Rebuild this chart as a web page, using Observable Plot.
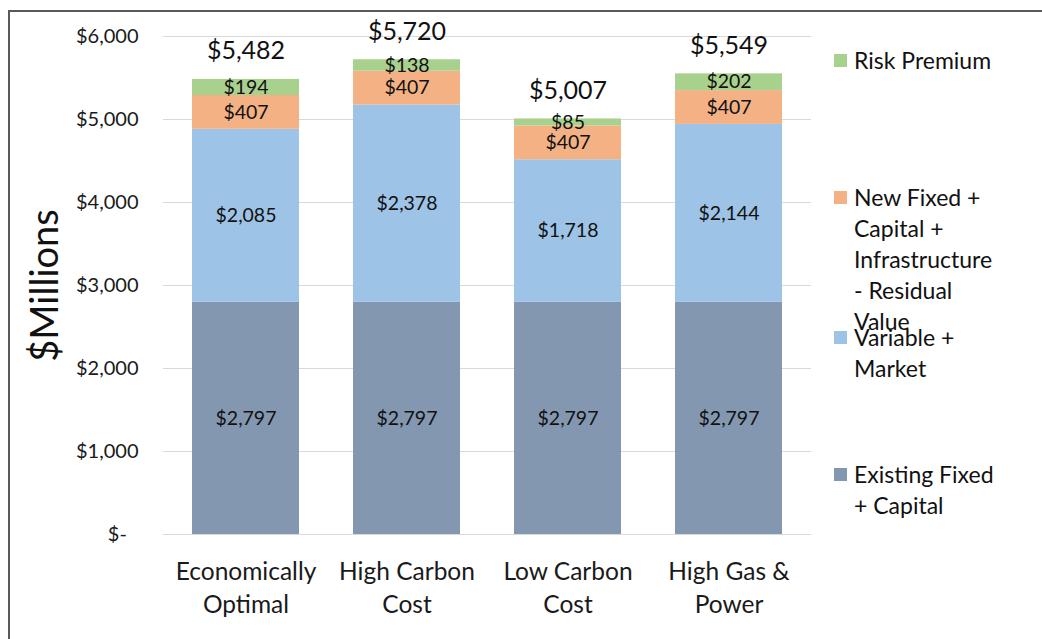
<!DOCTYPE html>
<html>
<head>
<meta charset="utf-8">
<script src="https://cdn.jsdelivr.net/npm/d3@7"></script>
<script src="https://cdn.jsdelivr.net/npm/@observablehq/plot@0.6"></script>
<style>
  html, body { margin: 0; padding: 0; background: #fff; }
  #wrap { position: relative; width: 1042px; height: 639px; overflow: hidden; font-family: Lato, "Open Sans", sans-serif; }
  #border { position: absolute; left: 8px; top: 10px; right: -10px; bottom: -10px; border-top: 2px solid #595959; border-left: 2px solid #595959; }
  #chart { position: absolute; left: 0; top: 0; }
  .lg { position: absolute; left: 834px; }
  .lg .sw { position: absolute; left: 0; width: 13px; height: 13px; }
  .lg .tx { position: absolute; left: 20px; white-space: pre; font-size: 23px; line-height: 31px; color: #111; }
</style>
</head>
<body>
<div id="wrap">
  <div id="border"></div>
  <div id="chart"></div>
  <div id="legend"></div>
</div>
<script>
const categories = ["Economically\nOptimal", "High Carbon\nCost", "Low Carbon\nCost", "High Gas &\nPower"];
const series = ["Existing Fixed\n+ Capital", "Variable +\nMarket", "New Fixed +\nCapital +\nInfrastructure\n- Residual\nValue", "Risk Premium"];
const existingFixed = [2797, 2797, 2797, 2797];
const variableMarket = [2085, 2378, 1718, 2144];
const newFixed = [407, 407, 407, 407];
const riskPremium = [194, 138, 85, 202];
const totals = [5482, 5720, 5007, 5549];
const colors = ["#8497B0", "#9DC3E6", "#F4B183", "#A9D18E"];
const yTicks = [0, 1000, 2000, 3000, 4000, 5000, 6000];

const seriesValues = [existingFixed, variableMarket, newFixed, riskPremium];
const rows = [];
categories.forEach((c, i) => {
  series.forEach((s, j) => rows.push({cat: c, series: s, value: seriesValues[j][i]}));
});
const totalRows = categories.map((c, i) => ({cat: c, total: totals[i]}));
const money = v => "$" + d3.format(",")(v);

const chart = Plot.plot({
  width: 1042,
  height: 639,
  marginLeft: 163,
  marginRight: 231,
  marginTop: 36,
  marginBottom: 105,
  style: {fontFamily: "Lato, 'Open Sans', sans-serif", background: "transparent", color: "#1a1a1a"},
  x: {domain: categories, paddingInner: 0.333, paddingOuter: 0.1667, label: null},
  y: {domain: [0, 6000], label: null},
  color: {domain: series, range: colors},
  marks: [
    Plot.gridY(yTicks, {stroke: "#d9d9d9", strokeOpacity: 1}),
    Plot.barY(rows, {x: "cat", y: "value", z: "series", fill: "series", order: series}),
    Plot.text(rows, Plot.stackY({x: "cat", y: "value", z: "series", order: series, text: d => money(d.value), fontSize: 19.5, fill: "#111"})),
    Plot.text(totalRows, {x: "cat", y: "total", text: d => money(d.total), dy: -28, fontSize: 25, fill: "#111"}),
    Plot.axisY({ticks: yTicks, tickSize: 0, tickPadding: 25, fontSize: 20, label: null,
      tickFormat: d => d === 0 ? "$-\u2007" : money(d)}),
    Plot.axisX({tickSize: 0, tickPadding: 22, fontSize: 24.5, lineHeight: 1.36, label: null}),
    Plot.text(["$Millions"], {frameAnchor: "left", rotate: -90, textAnchor: "middle", dx: -118, fontSize: 38, fill: "#111"})
  ]
});
document.getElementById("chart").appendChild(chart);

// Legend (top of list = top of stack)
const legendTops = [60, 197, 337, 474];
const legendOrder = [3, 2, 1, 0];
const legend = document.getElementById("legend");
legendOrder.forEach((si, k) => {
  const cy = legendTops[k];
  const item = document.createElement("div");
  item.className = "lg";
  item.style.top = (cy - 15.5) + "px";
  const sw = document.createElement("div");
  sw.className = "sw";
  sw.style.top = (15.5 - 6.5) + "px";
  sw.style.background = colors[si];
  const tx = document.createElement("div");
  tx.className = "tx";
  tx.style.top = "0px";
  tx.textContent = series[si];
  item.appendChild(sw);
  item.appendChild(tx);
  legend.appendChild(item);
});
</script>
</body>
</html>
